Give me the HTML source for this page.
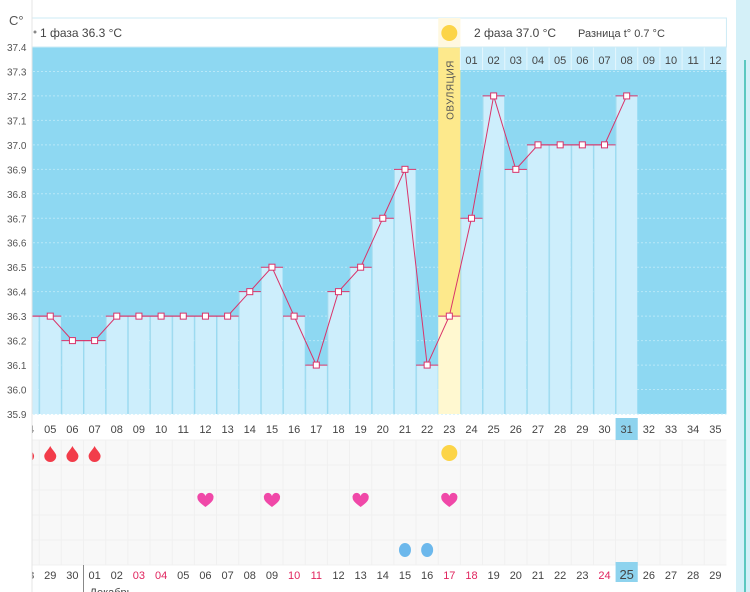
<!DOCTYPE html>
<html><head><meta charset="utf-8">
<style>
html,body{margin:0;padding:0;background:#fff;width:750px;height:592px;overflow:hidden}
svg{display:block;font-family:"Liberation Sans","DejaVu Sans",sans-serif}
</style></head>
<body>
<svg id="c" width="750" height="592" xmlns="http://www.w3.org/2000/svg"></svg>
<script>
const days=["04","05","06","07","08","09","10","11","12","13","14","15","16","17","18","19","20","21","22","23","24","25","26","27","28","29","30","31","32","33","34","35"];
const temps=[36.3,36.3,36.2,36.2,36.3,36.3,36.3,36.3,36.3,36.3,36.4,36.5,36.3,36.1,36.4,36.5,36.7,36.9,36.1,36.3,36.7,37.2,36.9,37.0,37.0,37.0,37.0,37.2];
const dates=["28","29","30","01","02","03","04","05","06","07","08","09","10","11","12","13","14","15","16","17","18","19","20","21","22","23","24","25","26","27","28","29"];
const redDates=[5,6,12,13,19,20,26];
const phase2Labels=["01","02","03","04","05","06","07","08","09","10","11","12"];
const yTicks=[37.4,37.3,37.2,37.1,37.0,36.9,36.8,36.7,36.6,36.5,36.4,36.3,36.2,36.1,36.0,35.9];
const periodDays=[0,1,2,3];
const heartDays=[8,11,15,19];
const blueDropDays=[17,18];
const ovuIndex=19;
const todayIndex=27;

const NS="http://www.w3.org/2000/svg";
const svg=document.getElementById('c');
function el(t,a,p){const e=document.createElementNS(NS,t);for(const k in a)e.setAttribute(k,a[k]);(p||svg).appendChild(e);return e;}
const X0=17,CW=22.17,Y0=47,YB=414;
const xL=i=>X0+i*CW, xC=i=>X0+(i+0.5)*CW;
const y=v=>Y0+(37.4-v)/1.5*(YB-Y0);
const R=X0+days.length*CW;

let e=el('rect',{x:X0,y:Y0,width:R-X0,height:YB-Y0,fill:'#8ed8f2'});

yTicks.forEach(v=>{el('line',{x1:X0,x2:R,y1:y(v),y2:y(v),stroke:'#b8e8f8','stroke-dasharray':'2,2','stroke-width':1});});
temps.forEach((v,i)=>{
  if(i===ovuIndex){
    let a=el('rect',{x:xL(i),y:Y0,width:CW,height:y(v)-Y0,fill:'#fde98c'});
    
    el('rect',{x:xL(i),y:y(v),width:CW,height:YB-y(v),fill:'#fff8d0'});
    return;
  }
  let b=el('rect',{x:xL(i)+0.5,y:y(v),width:CW-1,height:YB-y(v),fill:'#cdeefc'});
  
  el('line',{x1:xL(i)+0.5,x2:xL(i)+0.5,y1:y(v),y2:YB,stroke:'#a5dcef'});
});
let ot=el('text',{x:0,y:0,transform:`translate(${xC(ovuIndex)+4},90) rotate(-90)`,'font-size':10,fill:'#555','text-anchor':'middle','letter-spacing':'0.5'});
ot.textContent='ОВУЛЯЦИЯ';
let pr=el('rect',{x:xL(ovuIndex+1),y:Y0,width:R-xL(ovuIndex+1),height:23,fill:'#c6ebfa'});

phase2Labels.forEach((t,k)=>{const i=ovuIndex+1+k;
  el('line',{x1:xL(i),x2:xL(i),y1:Y0,y2:Y0+23,stroke:'#e4f6fd'});
  let tx=el('text',{x:xC(i),y:Y0+17,'font-size':11,fill:'#444','text-anchor':'middle'});tx.textContent=t;
  });
let pts=temps.map((v,i)=>xC(i)+','+y(v)).join(' ');
let ln=el('polyline',{points:pts,fill:'none',stroke:'#d9346a','stroke-width':1});

temps.forEach((v,i)=>{
  el('line',{x1:xL(i),x2:xL(i)+CW,y1:y(v),y2:y(v),stroke:'#d9346a','stroke-width':1});
  let m=el('rect',{x:xC(i)-3,y:y(v)-3,width:6,height:6,fill:'#fff',stroke:'#d9346a','stroke-width':1});
  
});
let hd=el('rect',{x:X0,y:18,width:R-X0,height:29,fill:'#fff',stroke:'#cdebf5'});

el('rect',{x:xL(ovuIndex),y:18,width:CW,height:29,fill:'#fff8e0'});
let sun=el('circle',{cx:xC(ovuIndex),cy:33,r:8,fill:'#fcd447'});

el('circle',{cx:35,cy:32,r:1.5,fill:'#888'});
let p1=el('text',{x:40,y:37,'font-size':12,fill:'#444'});p1.textContent='1 фаза 36.3 °C';

let p2=el('text',{x:474,y:37,'font-size':12,fill:'#444'});p2.textContent='2 фаза 37.0 °C';

let df=el('text',{x:578,y:37,'font-size':11,fill:'#444'});df.textContent='Разница t° 0.7 °C';

el('rect',{x:X0,y:440,width:R-X0,height:125,fill:'#f8f8f8'});
for(let r=0;r<=5;r++)el('line',{x1:X0,x2:R,y1:440+r*25,y2:440+r*25,stroke:'#f0f0f0'});
days.forEach((d,i)=>el('line',{x1:xL(i),x2:xL(i),y1:440,y2:565,stroke:'#f0f0f0'}));
days.forEach((d,i)=>{
  if(i===todayIndex){let h=el('rect',{x:xL(i),y:418,width:CW,height:22,fill:'#8ed3ee'});}
  let t=el('text',{x:xC(i),y:433,'font-size':11,fill:'#444','text-anchor':'middle'});t.textContent=d;
  
});
dates.forEach((d,i)=>{
  if(i===todayIndex){let h=el('rect',{x:xL(i),y:562,width:CW,height:20,fill:'#8ed3ee'});}
  let t=el('text',{x:xC(i),y:579,'font-size':i===todayIndex?13:11,fill:redDates.includes(i)?'#e0245e':'#444','text-anchor':'middle'});t.textContent=d;
  
});
el('line',{x1:xL(3),x2:xL(3),y1:565,y2:592,stroke:'#888'});
let mo=el('text',{x:xL(3)+6,y:596,'font-size':11,fill:'#444'});mo.textContent='Декабрь';

periodDays.forEach(i=>{let d=el('path',{d:`M${xC(i)},${446} C${xC(i)+2},${450} ${xC(i)+6},${453} ${xC(i)+6},${456} A6,6 0 0 1 ${xC(i)-6},${456} C${xC(i)-6},${453} ${xC(i)-2},${450} ${xC(i)},${446}Z`,fill:'#f23c4a'});
  });
let s2=el('circle',{cx:xC(ovuIndex),cy:453,r:8,fill:'#fcd447'});
heartDays.forEach(i=>{const c=xC(i),t=500;
  let h=el('path',{d:`M${c},${t+7} C${c-4},${t+4} ${c-8},${t+1} ${c-8},${t-2} A4,4 0 0 1 ${c},${t-4} A4,4 0 0 1 ${c+8},${t-2} C${c+8},${t+1} ${c+4},${t+4} ${c},${t+7}Z`,fill:'#f048a8'});
  });
blueDropDays.forEach(i=>{let b=el('ellipse',{cx:xC(i),cy:550,rx:6,ry:7,fill:'#6cb8ec'});
  });
let lp=el('rect',{x:0,y:0,width:32,height:592,fill:'#fff'});
el('line',{x1:32,x2:32,y1:0,y2:592,stroke:'#e4e4e4'});
let cu=el('text',{x:9,y:25,'font-size':13,fill:'#555'});cu.textContent='C°';
yTicks.forEach(v=>{let t=el('text',{x:7,y:y(v)+4,'font-size':10,fill:'#555'});t.textContent=v.toFixed(1);
  });
let rp=el('rect',{x:736,y:0,width:14,height:592,fill:'#d4f0f8'});
el('line',{x1:745,x2:745,y1:60,y2:592,stroke:'#5cc8c0','stroke-width':2});
</script>
</body></html>
